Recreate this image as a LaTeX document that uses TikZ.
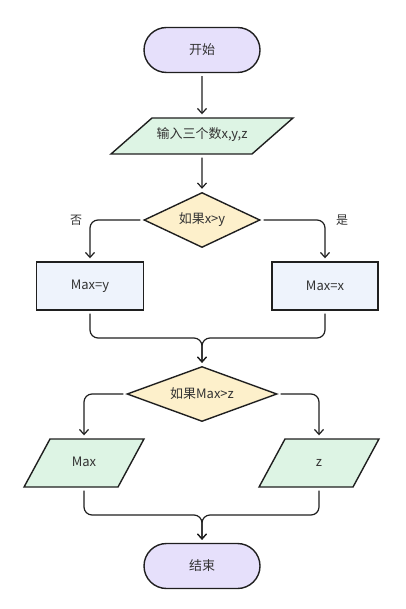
\documentclass[tikz,border=0pt]{standalone}
\usepackage{fontspec}
\setmainfont{Noto Sans CJK SC}
\usetikzlibrary{arrows.meta,shapes.geometric,shapes.misc}

\definecolor{lineclr}{HTML}{1F1F1F}
\definecolor{textclr}{HTML}{333333}
\definecolor{termfill}{HTML}{E6E0FB}
\definecolor{iofill}{HTML}{DDF4E4}
\definecolor{procfill}{HTML}{EEF3FC}
\definecolor{decfill}{HTML}{FDF0CB}

\tikzset{
    base/.style={draw=lineclr, line width=1.4pt, text=textclr, inner sep=0pt, font=\fontsize{13}{15}\selectfont},
    terminal/.style={base, rounded rectangle, fill=termfill, minimum width=116pt, minimum height=45pt},
    iobox/.style={base, trapezium, fill=iofill, align=center, text height=9pt, text depth=3pt},
    procbox/.style={base, rectangle, fill=procfill, minimum height=48pt},
    decision/.style={base, diamond, fill=decfill, minimum height=55pt},
    branch/.style={text=textclr, font=\fontsize{12}{14}\selectfont},
    flow/.style={draw=lineclr, line width=1.2pt, rounded corners=8pt, shorten <=3pt, shorten >=3pt,
        -{Straight Barb[length=5pt, width=9pt]}}
}

\begin{document}
\begin{tikzpicture}[x=1pt, y=-1pt]
                    \useasboundingbox (0,0) rectangle (405,609);

                    \node (start) [terminal] at (202,50) {开始};
                    \node (input) [iobox, trapezium left angle=41.3, trapezium right angle=138.7,
                        text width=100pt, inner ysep=12pt] at (202,136) {输入三个数x,y,z};
                    \node (ifxy) [decision, aspect=2.4, minimum width=116pt] at (202,220) {如果x>y};
                    \node (maxy) [procbox, minimum width=107pt] at (90,286) {Max=y};
                    \node (maxx) [procbox, minimum width=106pt] at (325,286) {Max=x};
                    \node (ifmz) [decision, aspect=3, minimum width=150pt] at (202,394) {如果Max>z};
                    \node (outmax) [iobox, trapezium left angle=61.6, trapezium right angle=118.4,
                        text width=68pt, inner ysep=18pt] at (84,463) {Max};
                    \node (outz) [iobox, trapezium left angle=61.6, trapezium right angle=118.4,
                        text width=68pt, inner ysep=18pt] at (319,463) {z};
                    \node (stop) [terminal] at (202,566) {结束};

                    \node (no) [branch] at (76,220) {否};
                    \node (yes) [branch] at (342,220) {是};

                    \coordinate (join1) at (202,338);
                    \coordinate (join2) at (202,515);

                    \path [flow]
                        (start) edge (input)
                        (input) edge (ifxy);
                    \draw [flow] (ifxy.west) -| (maxy.north);
                    \draw [flow] (ifxy.east) -| (maxx.north);
                    \draw [flow] (maxy.south) |- (join1) -- (ifmz.north);
                    \draw [flow] (maxx.south) |- (join1) -- (ifmz.north);
                    \draw [flow] (ifmz.west) -| (outmax.north);
                    \draw [flow] (ifmz.east) -| (outz.north);
                    \draw [flow] (outmax.south) |- (join2) -- (stop.north);
                    \draw [flow] (outz.south) |- (join2) -- (stop.north);
                \end{tikzpicture}
\end{document}
